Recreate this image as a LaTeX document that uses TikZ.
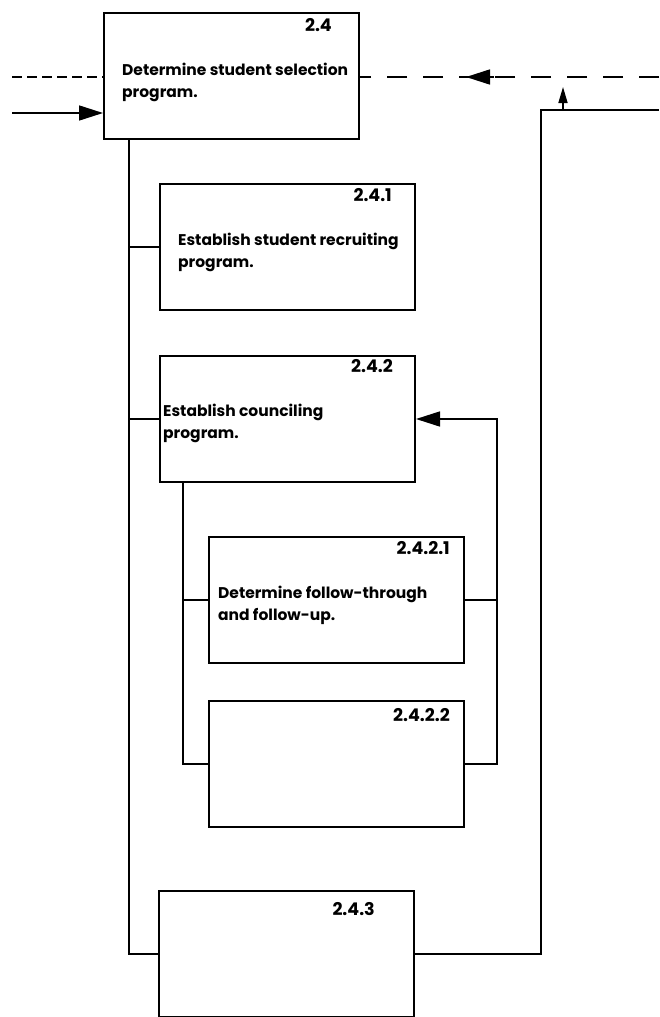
\documentclass[tikz,border=0pt]{standalone}
\usepackage{fontspec}
\newfontfamily\boxfont{Poppins}
\usetikzlibrary{arrows.meta,calc}
\tikzset{
  stage/.style={
    draw,
    line width=2pt,
    minimum width=255pt,
    minimum height=126pt,
    anchor=north west,
    inner sep=0pt
  },
  code/.style={
    font=\boxfont\bfseries\fontsize{17.5}{20}\selectfont,
    anchor=north east,
    inner sep=0pt
  },
  task/.style={
    font=\boxfont\bfseries\fontsize{15.5}{22}\selectfont,
    align=left,
    anchor=west,
    inner sep=0pt
  },
  link/.style={
    line width=1.6pt
  },
  flow/.style={
    link,
    -{Triangle[length=24pt,width=15pt]}
  },
  feedback/.style={
    line width=1.6pt,
    dash pattern=on 20pt off 16pt
  }
}
\begin{document}
\begin{tikzpicture}[x=1pt,y=-1pt]
    \useasboundingbox (0,0) rectangle (659,1017);
    % boxes
    \node[stage] (b24) at (103,12) {};
    \node[stage] (b241) at (159,183) {};
    \node[stage] (b242) at (159,355) {};
    \node[stage] (b2421) at (208,536) {};
    \node[stage] (b2422) at (208,700) {};
    \node[stage] (b243) at (158,890) {};
    % numbers
    \node[code] at ([xshift=-28pt,yshift=-6pt]b24.north east) {2.4};
    \node[code] at ([xshift=-24pt,yshift=-5pt]b241.north east) {2.4.1};
    \node[code] at ([xshift=-23pt,yshift=-4pt]b242.north east) {2.4.2};
    \node[code] at ([xshift=-15pt,yshift=-5pt]b2421.north east) {2.4.2.1};
    \node[code] at ([xshift=-15pt,yshift=-8pt]b2422.north east) {2.4.2.2};
    \node[code] at ([xshift=-40pt,yshift=-12pt]b243.north east) {2.4.3};
    % texts
    \node[task] (t24) at (122,82) {Determine student selection\\program.};
    \node[task] (t241) at (178,252) {Establish student recruiting\\program.};
    \node[task] (t242) at (163,423) {Establish counciling\\program.};
    \node[task] (t2421) at (218,605) {Determine follow-through\\and follow-up.};
    % points off the boxes
    \coordinate (in) at (12,113);
    \coordinate (dl) at (12,77);
    \coordinate (dr) at (659,77);
    \coordinate (ah) at (466,77);
    \coordinate (at) at (494,77);
    \coordinate (rt) at (659,110);
    \coordinate (ml) at (541,0);
    \coordinate (tk) at (563,110);
    \coordinate (tp) at (563,87);
    \coordinate (sp) at (129,0);
    \coordinate (ss) at (183,0);
    \coordinate (rl) at (497,0);
    % input and feedback
    \draw[flow] (in) -- (in -| b24.west);
    \draw[line width=1.6pt, dash pattern=on 10pt off 5pt] (dl) -- (dl -| b24.west);
    \draw[feedback] (dr) -- (dr -| b24.east);
    \draw[flow] (at) -- (ah);
    \draw[link, -{Triangle[length=16pt,width=9pt]}] (tk) -- (tp);
    % main spine
    \draw[link] (b24.south -| sp) |- (b243.west);
    \draw[link] (b241.west -| sp) -- (b241.west);
    \draw[link] (b242.west -| sp) -- (b242.west);
    % sub spine
    \draw[link] (b242.south -| ss) |- (b2422.west);
    \draw[link] (b2421.west -| ss) -- (b2421.west);
    % loop back to 2.4.2
    \draw[flow] (b2422.east) -| (rl |- b242.east) -- (b242.east);
    \draw[link] (b2421.east) -- (b2421.east -| rl);
    % loop back to 2.4
    \draw[link] (b243.east) -| (rt -| ml) -- (rt);
\end{tikzpicture}
\end{document}
